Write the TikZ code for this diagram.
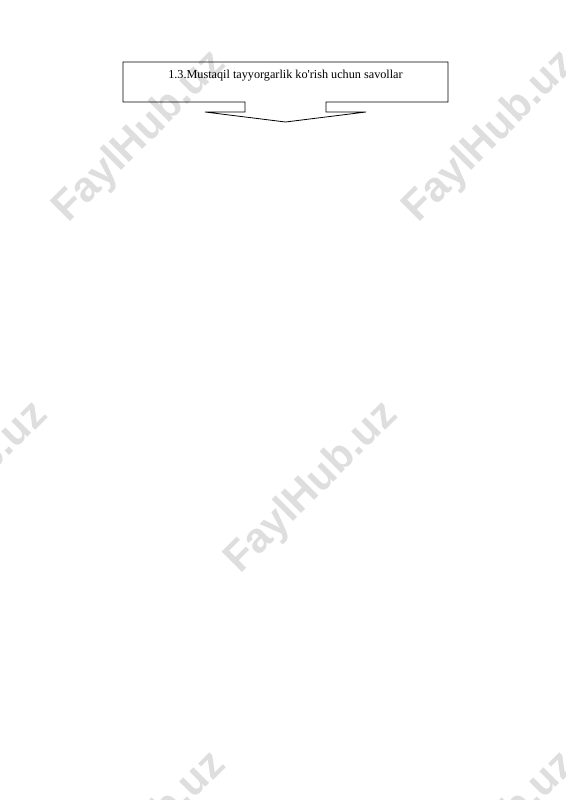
\documentclass[tikz,border=0pt]{standalone}
\usepackage{fontspec}
\setmainfont{Liberation Serif}
\newfontfamily\wmfont{Liberation Sans}
\begin{document}
\begin{tikzpicture}[x=1pt,y=-1pt,
  outline/.style={draw=black,line width=0.8pt,line join=miter},
  label/.style={font=\fontsize{12.2}{14}\selectfont,inner sep=0pt},
  watermark/.style={font=\wmfont\bfseries\fontsize{42}{42}\selectfont,text=black!13,rotate=45,inner sep=0pt}]
\useasboundingbox[fill=white] (0,0) rectangle (565,800);
% watermarks
\foreach \cx/\cy [count=\i] in {140/137,490/137,-38/488,312/488,140/838,490/838}
  \node[watermark] (wm\i) at (\cx,\cy) {FaylHub.uz};
% callout with down arrow
\coordinate (tl) at (123,62);
\coordinate (tr) at (448,62);
\coordinate (br) at (448,102);
\coordinate (bl) at (123,102);
\coordinate (sl) at (245,102);
\coordinate (sr) at (326,102);
\coordinate (slb) at (245,112);
\coordinate (srb) at (326,112);
\coordinate (wl) at (205,112);
\coordinate (wr) at (366,112);
\coordinate (tip) at (285.5,122);
\draw[outline] (tl) -- (tr) -- (br) -- (sr) -- (srb) -- (wr) -- (tip) -- (wl) -- (slb) -- (sl) -- (bl) -- cycle;
\node[label] (title) at (285.5,75.5) {1.3.Mustaqil tayyorgarlik ko\textquotesingle rish uchun savollar};
\end{tikzpicture}
\end{document}
